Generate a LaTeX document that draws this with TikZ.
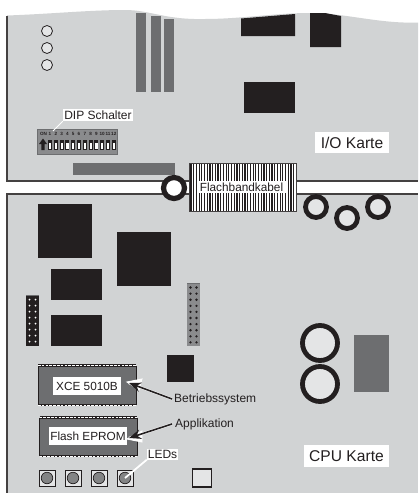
\documentclass[tikz,border=0pt]{standalone}
\usepackage{fontspec}
\setmainfont{Liberation Sans}
\usetikzlibrary{arrows.meta}
\definecolor{board}{HTML}{D1D3D4}
\definecolor{ink}{HTML}{231F20}
\definecolor{midgray}{HTML}{6D6E70}
\definecolor{pale}{HTML}{E4E5E6}
\tikzset{
  boardedge/.style={draw=ink!85,line width=1.2},
  chipblack/.style={fill=ink},
  chipgray/.style={fill=midgray},
  bigring/.style={circle,draw=ink,fill=pale,line width=4.8,minimum size=21,inner sep=0},
  hugering/.style={circle,draw=ink,fill=pale,line width=4.8,minimum size=35,inner sep=0},
  hole/.style={circle,draw=ink,fill=pale,line width=.8,minimum size=11,inner sep=0},
  lab/.style={fill=white,text=ink,font=\fontsize{12}{12}\selectfont,inner sep=1.2,text height=8.8,text depth=.3},
  plainlab/.style={text=ink,font=\fontsize{12}{12}\selectfont,inner sep=0,text height=8.8,text depth=2.4},
  biglab/.style={fill=white,text=ink,font=\fontsize{15.6}{16}\selectfont,inner sep=0,minimum height=21},
  dipnum/.style={text=ink,font=\bfseries\fontsize{4.6}{5}\selectfont,inner sep=0},
  dipchip/.style={chipgray,fill=midgray!80,draw=midgray,line width=.6},
  dil/.style={fill=midgray,draw=ink,line width=1},
  pinsdark/.style={draw=ink,line width=2},
  pinswhite/.style={draw=white,line width=1,dash pattern=on 2.6 off 1.2},
  ptr/.style={draw=ink,line width=1.6,-{Stealth[length=12,width=9.5]}},
  halo/.style={draw=white,line width=2.4},
  led/.style={draw=ink,fill=pale,line width=.6,minimum size=16,inner sep=0},
  ledlamp/.style={circle,draw=ink,fill=midgray!85,line width=.7,minimum size=11.5,inner sep=0},
}
\begin{document}
\begin{tikzpicture}[x=1pt,y=-1pt]
\useasboundingbox (0,0) rectangle (418,493);
\fill[white] (0,0) rectangle (418,493);
% I/O board
\fill[board] (7,15.5) .. controls (50,14) and (90,10) .. (125,10)
  .. controls (150,10) and (165,20) .. (205,19)
  .. controls (240,19) and (275,13) .. (310,13)
  .. controls (345,13) and (380,24) .. (418,22.5)
  -- (418,181) -- (7,181) -- cycle;
\draw[boardedge] (7,15.5) -- (7,181) -- (189,181);
\draw[boardedge] (296,181) -- (418,181);
% CPU board
\fill[board] (7,194) rectangle (418,493);
\draw[boardedge] (7,493) -- (7,194) -- (189,194);
\draw[boardedge] (296,194) -- (418,194);
% I/O parts
\node[hole] (h1) at (47,31) {};
\node[hole] (h2) at (47,48) {};
\node[hole] (h3) at (47,65) {};
\fill[chipgray] (136,13) rectangle (146,92);
\fill[chipgray] (151,16) rectangle (161,92);
\fill[chipgray] (164,19) rectangle (174,92);
\fill[chipgray] (73,163) rectangle (175,175);
\fill[chipblack] (241,18.5) -- (295,14) -- (295,36) -- (241,36) -- cycle;
\fill[chipblack] (310,13) -- (325,13) -- (341,16) -- (341,47) -- (310,47) -- cycle;
\fill[chipblack] (244,82) rectangle (295,113);
% DIP switch
\fill[dipchip] (37.5,129) rectangle (117,154);
\node[dipnum] (on) at (43.5,133.5) {ON};
\foreach \n in {1,...,12}{
  \pgfmathsetmacro{\px}{50+(\n-1)*5.8}
  \node[dipnum] (d\n) at (\px,133.5) {\n};
  \fill[ink] (\px-2,139.5) rectangle (\px+2,150);
  \fill[white] (\px-1.1,142.5) rectangle (\px+1.1,149);
}
\fill[ink] (43,138.5) -- (47,144) -- (44.6,144) -- (44.6,150) -- (41.4,150) -- (41.4,144) -- (39,144) -- cycle;
\coordinate (dipfoot) at (53,131);
\node[lab,anchor=center,minimum width=70,minimum height=12] (dip) at (98,115) {DIP Schalter};
\draw[white,line width=.8] (dip.south west) -- (dipfoot);
% Ribbon cable
\fill[white] (189,163.5) rectangle (296,211.5);
\foreach \x in {191,193.7,...,295}{
  \draw[ink,line width=1.2] (\x,163.5) -- (\x,211.5);
}
\draw[ink!85,line width=.9] (189,163.5) rectangle (296,211.5);
\node[fill=white,text=ink,font=\fontsize{11.8}{12}\selectfont,inner sep=0,minimum width=88,minimum height=12.5] (cable) at (241.5,187) {Flachbandkabel};
\node[circle,draw=ink,fill=white,line width=5.2,minimum size=21,inner sep=0] (ring0) at (174,188) {};
\node[bigring] (r1) at (316,207) {};
\node[bigring] (r2) at (347,218) {};
\node[bigring] (r3) at (378,207) {};
\node[biglab,minimum width=74] (io) at (352,142.5) {I/O Karte};
% CPU parts
\fill[chipblack] (38,204) rectangle (92,258);
\fill[chipblack] (117,232) rectangle (171,286);
\fill[chipblack] (51,269) rectangle (102,300);
\fill[chipblack] (51,315) rectangle (102,346);
\fill[chipblack] (167,355) rectangle (194,382);
% headers
\fill[ink] (26,295) rectangle (39,346);
\draw[midgray,line width=.8] (26,295.4) -- (39,295.4);
\foreach \r in {0,...,7}{
  \fill[white] (29.5,299.5+\r*6) circle (1);
  \fill[white] (35.5,299.5+\r*6) circle (1);
}
\fill[midgray!80] (187,283) rectangle (200,346);
\draw[midgray,line width=.8] (187,283) -- (200,283);
\foreach \r in {0,...,9}{
  \fill[ink] (190.5,287.5+\r*6.1) circle (1.3);
  \fill[ink] (196.5,287.5+\r*6.1) circle (1.3);
}
% DIL chips
\draw[dil] (38,366) rectangle (136,404);
\draw[pinsdark] (38,365) -- (136,365);
\draw[pinswhite] (38,365.6) -- (136,365.6);
\draw[pinsdark] (38,405) -- (136,405);
\draw[pinswhite] (38,405.4) -- (136,405.4);
\draw[dil] (39.5,418) rectangle (137,455);
\draw[pinsdark] (39.5,417) -- (137,417);
\draw[pinswhite] (39.5,417) -- (137,417);
\draw[pinsdark] (39.5,456) -- (137,456);
\draw[pinswhite] (39.5,456.4) -- (137,456.4);
\node[fill=white,text=ink,font=\fontsize{11.8}{12}\selectfont,inner sep=0,minimum width=68,minimum height=18] (xce) at (87,386) {XCE 5010B};
\node[fill=white,text=ink,font=\fontsize{11.8}{12}\selectfont,inner sep=0,minimum width=78,minimum height=18] (flash) at (88,436) {Flash EPROM};
\node[plainlab,anchor=west] (betr) at (174,399) {Betriebssystem};
\node[plainlab,anchor=west] (appl) at (175,424) {Applikation};
\coordinate (xcetip) at (129,383);
\coordinate (flashtip) at (129,438);
\draw[halo] ([xshift=-2]betr.west) -- (xcetip);
\draw[halo] ([xshift=-3]appl.west) -- (flashtip);
\draw[white,line width=.9,fill=white] (xcetip) ++(-2,-1) -- ++(15,-3) -- ++(-3,11) -- cycle;
\draw[white,line width=.9,fill=white] (flashtip) ++(-2,1) -- ++(15,-8) -- ++(0,11) -- cycle;
\draw[ptr] ([xshift=-2]betr.west) -- (xcetip);
\draw[ptr] ([xshift=-3]appl.west) -- (flashtip);
% LEDs
\foreach \i/\x in {1/47,2/73,3/99,4/125}{
  \node[led] (led\i) at (\x,478) {};
  \node[ledlamp] (lamp\i) at (\x,478) {};
}
\node[fill=white,text=ink,font=\fontsize{12}{12}\selectfont,inner sep=0,minimum width=31,minimum height=11] (leds) at (162.5,454) {LEDs};
\draw[white,line width=1.8] (leds.south west) -- (lamp4.center);
\node[draw=ink,fill=pale,line width=1.6,minimum width=19,minimum height=18.5,inner sep=0] (sq) at (202,478) {};
\fill[chipgray] (354,335) rectangle (389,392);
\node[hugering] (r4) at (320,343) {};
\node[hugering] (r5) at (320,384) {};
\node[biglab,minimum width=85,minimum height=22] (cpu) at (346.5,456) {CPU Karte};
\end{tikzpicture}
\end{document}
